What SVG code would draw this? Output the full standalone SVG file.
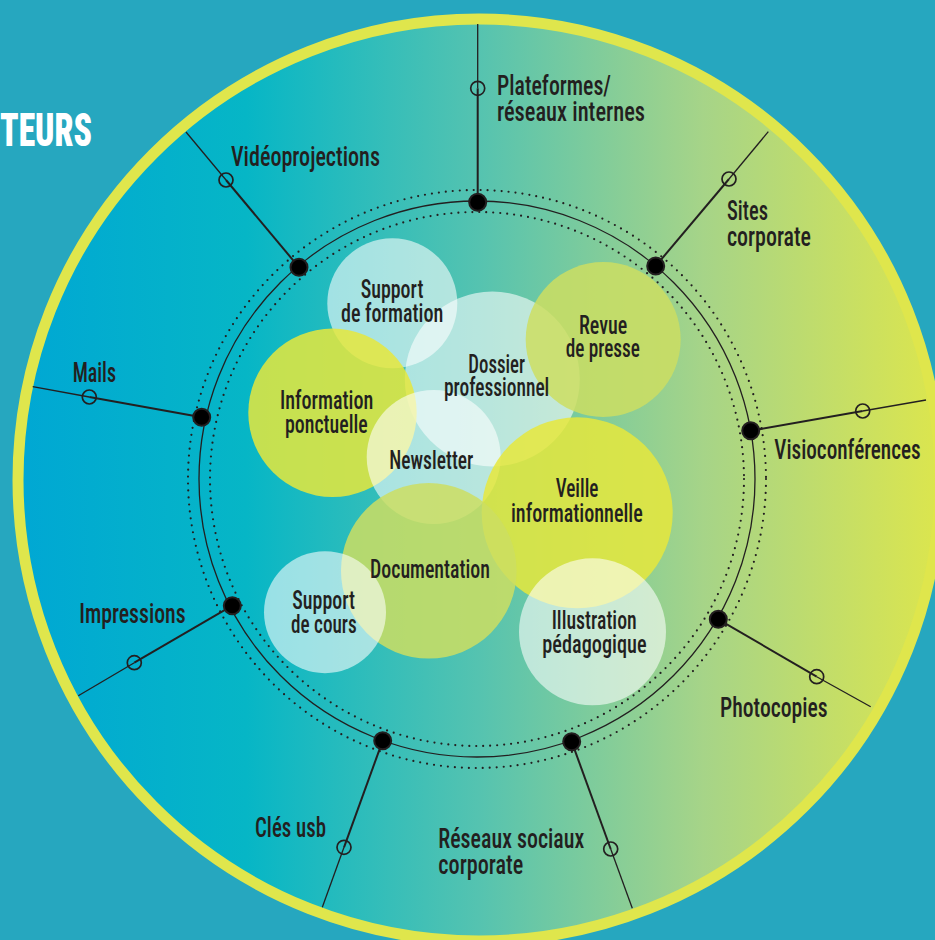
<svg xmlns="http://www.w3.org/2000/svg" width="935" height="940" viewBox="0 0 935 940">
  <defs>
    <linearGradient id="bgGrad" gradientUnits="userSpaceOnUse" x1="13" y1="0" x2="945" y2="0">
      <stop offset="0" stop-color="#00A7D4"/>
      <stop offset="0.25" stop-color="#06B6C6"/>
      <stop offset="0.5" stop-color="#55C3B0"/>
      <stop offset="0.74" stop-color="#A6D488"/>
      <stop offset="1" stop-color="#DDE64C"/>
    </linearGradient>
    <style>
      .lbl { font-family: "Roboto Condensed", "DejaVu Sans Condensed", "Liberation Sans Narrow", "Roboto", "Liberation Sans", sans-serif; font-weight: 500; fill: #231f20; }
      .out { font-size: 27px; }
      .in { font-size: 25px; }
      .title { font-family: "Roboto Condensed", "DejaVu Sans Condensed", "Liberation Sans Narrow", "Roboto", "Liberation Sans", sans-serif; font-weight: 900; font-size: 47px; fill: #ffffff; }
      .ring-solid { fill: none; stroke: #231f20; stroke-width: 1.3; }
      .ring-dot { fill: none; stroke: #231f20; stroke-width: 2.2; stroke-linecap: round; stroke-dasharray: 0 7; }
      .seg-in { stroke: #231f20; stroke-width: 2; }
      .seg-out { stroke: #231f20; stroke-width: 1.3; }
      .junction { fill: #000000; stroke: #231f20; stroke-width: 2; }
      .port { fill: none; stroke: #231f20; stroke-width: 1.7; }
      .white { fill: #ffffff; fill-opacity: 0.58; }
      .yellow { fill: #E6E83C; fill-opacity: 0.85; }
      .yellowgreen { fill: #CCDE62; fill-opacity: 0.85; }
    </style>
  </defs>

  <!-- background -->
  <rect x="0" y="0" width="935" height="940" fill="#26A7BF"/>
  <circle cx="479" cy="480" r="461" fill="url(#bgGrad)" stroke="#DFE64C" stroke-width="11"/>

  <text class="title" x="0" y="145.7" textLength="92" lengthAdjust="spacingAndGlyphs">TEURS</text>

  <!-- concentric rings -->
  <g id="rings">
    <circle class="ring-dot" cx="477" cy="479" r="289"/>
    <circle class="ring-solid" cx="477" cy="479" r="278"/>
    <circle class="ring-dot" cx="477" cy="479" r="267"/>
  </g>

  <!-- connectors -->
  <g id="connectors">
    <line class="seg-out" x1="477.7" y1="24" x2="477.7" y2="88.3"/>
    <line class="seg-in" x1="477.7" y1="88.3" x2="477.7" y2="202.3"/>

    <line class="seg-out" x1="186" y1="132" x2="226" y2="180"/>
    <line class="seg-in" x1="226" y1="180" x2="299" y2="267.3"/>

    <line class="seg-out" x1="768.3" y1="131.7" x2="729" y2="179"/>
    <line class="seg-in" x1="729" y1="179" x2="655.7" y2="266"/>

    <line class="seg-out" x1="32.7" y1="386.7" x2="89.3" y2="397"/>
    <line class="seg-in" x1="89.3" y1="397" x2="201.7" y2="417.3"/>

    <line class="seg-out" x1="926" y1="400" x2="862.7" y2="411"/>
    <line class="seg-in" x1="862.7" y1="411" x2="750.7" y2="430.7"/>

    <line class="seg-out" x1="78.3" y1="695.7" x2="134.3" y2="662.7"/>
    <line class="seg-in" x1="134.3" y1="662.7" x2="232.3" y2="605.7"/>

    <line class="seg-out" x1="870.7" y1="706.7" x2="816.7" y2="676.7"/>
    <line class="seg-in" x1="816.7" y1="676.7" x2="718.3" y2="619.3"/>

    <line class="seg-out" x1="322.3" y1="907.3" x2="344" y2="847.3"/>
    <line class="seg-in" x1="344" y1="847.3" x2="382.7" y2="740.7"/>

    <line class="seg-out" x1="632.3" y1="908.3" x2="610.7" y2="849"/>
    <line class="seg-in" x1="610.7" y1="849" x2="571.7" y2="741.7"/>
  </g>

  <!-- junction dots on the ring -->
  <g id="junctions">
    <circle class="junction" cx="477.7" cy="202.3" r="8.5"/>
    <circle class="junction" cx="299" cy="267.3" r="8.5"/>
    <circle class="junction" cx="655.7" cy="266" r="8.5"/>
    <circle class="junction" cx="201.7" cy="417.3" r="8.5"/>
    <circle class="junction" cx="750.7" cy="430.7" r="8.5"/>
    <circle class="junction" cx="232.3" cy="605.7" r="8.5"/>
    <circle class="junction" cx="718.3" cy="619.3" r="8.5"/>
    <circle class="junction" cx="382.7" cy="740.7" r="8.5"/>
    <circle class="junction" cx="571.7" cy="741.7" r="8.5"/>
  </g>

  <!-- outer channel nodes -->
  <g id="node-plateformes">
    <circle class="port" cx="477.7" cy="88.3" r="7"/>
    <text class="lbl out" x="497" y="95" textLength="114" lengthAdjust="spacingAndGlyphs">Plateformes/</text>
    <text class="lbl out" x="497" y="121" textLength="148" lengthAdjust="spacingAndGlyphs">réseaux internes</text>
  </g>
  <g id="node-videoprojections">
    <circle class="port" cx="226" cy="180" r="7"/>
    <text class="lbl out" x="231" y="166" textLength="149" lengthAdjust="spacingAndGlyphs">Vidéoprojections</text>
  </g>
  <g id="node-sites">
    <circle class="port" cx="729" cy="179" r="7"/>
    <text class="lbl out" x="727" y="220" textLength="41" lengthAdjust="spacingAndGlyphs">Sites</text>
    <text class="lbl out" x="727" y="246" textLength="84" lengthAdjust="spacingAndGlyphs">corporate</text>
  </g>
  <g id="node-mails">
    <circle class="port" cx="89.3" cy="397" r="7"/>
    <text class="lbl out" x="72.7" y="381.7" textLength="43.3" lengthAdjust="spacingAndGlyphs">Mails</text>
  </g>
  <g id="node-visioconferences">
    <circle class="port" cx="862.7" cy="411" r="7"/>
    <text class="lbl out" x="774.3" y="459.3" textLength="146.4" lengthAdjust="spacingAndGlyphs">Visioconférences</text>
  </g>
  <g id="node-impressions">
    <circle class="port" cx="134.3" cy="662.7" r="7"/>
    <text class="lbl out" x="79.3" y="622.7" textLength="106.4" lengthAdjust="spacingAndGlyphs">Impressions</text>
  </g>
  <g id="node-photocopies">
    <circle class="port" cx="816.7" cy="676.7" r="7"/>
    <text class="lbl out" x="720" y="717.3" textLength="107.7" lengthAdjust="spacingAndGlyphs">Photocopies</text>
  </g>
  <g id="node-cles-usb">
    <circle class="port" cx="344" cy="847.3" r="7"/>
    <text class="lbl out" x="255" y="837.3" textLength="71" lengthAdjust="spacingAndGlyphs">Clés usb</text>
  </g>
  <g id="node-reseaux-sociaux">
    <circle class="port" cx="610.7" cy="849" r="7"/>
    <text class="lbl out" x="438.3" y="848.3" textLength="146" lengthAdjust="spacingAndGlyphs">Réseaux sociaux</text>
    <text class="lbl out" x="438.3" y="874.3" textLength="85" lengthAdjust="spacingAndGlyphs">corporate</text>
  </g>

  <!-- inner bubbles -->
  <g id="bubble-support-formation">
    <circle class="white" cx="392.3" cy="303.3" r="65"/>
  </g>
  <g id="bubble-dossier">
    <circle class="white" cx="492.3" cy="379" r="87.5"/>
  </g>
  <g id="bubble-revue">
    <circle class="yellowgreen" cx="603.2" cy="339.5" r="77.5"/>
  </g>
  <g id="bubble-information">
    <circle class="yellow" cx="332.5" cy="412.8" r="84.2"/>
  </g>
  <g id="bubble-newsletter">
    <circle class="white" cx="433.7" cy="457" r="67"/>
  </g>
  <g id="bubble-veille">
    <circle class="yellow" cx="577.2" cy="512.8" r="95.5"/>
  </g>
  <g id="bubble-documentation">
    <circle class="yellowgreen" cx="428.8" cy="570.8" r="87.8"/>
  </g>
  <g id="bubble-support-cours">
    <circle class="white" cx="325" cy="612.2" r="61"/>
  </g>
  <g id="bubble-illustration">
    <circle class="white" cx="592.5" cy="631.8" r="73.5"/>
  </g>

  <!-- bubble labels -->
  <g id="bubble-labels">
    <text class="lbl in" x="360.7" y="298.3" textLength="62.7" lengthAdjust="spacingAndGlyphs">Support</text>
    <text class="lbl in" x="341" y="321.7" textLength="102.3" lengthAdjust="spacingAndGlyphs">de formation</text>
    <text class="lbl in" x="579" y="334" textLength="48.3" lengthAdjust="spacingAndGlyphs">Revue</text>
    <text class="lbl in" x="565.7" y="357.3" textLength="74.3" lengthAdjust="spacingAndGlyphs">de presse</text>
    <text class="lbl in" x="468.3" y="372.7" textLength="56.7" lengthAdjust="spacingAndGlyphs">Dossier</text>
    <text class="lbl in" x="444" y="396" textLength="105.3" lengthAdjust="spacingAndGlyphs">professionnel</text>
    <text class="lbl in" x="280" y="409.3" textLength="93.3" lengthAdjust="spacingAndGlyphs">Information</text>
    <text class="lbl in" x="285" y="432.7" textLength="82.7" lengthAdjust="spacingAndGlyphs">ponctuelle</text>
    <text class="lbl in" x="389.3" y="469.3" textLength="84" lengthAdjust="spacingAndGlyphs">Newsletter</text>
    <text class="lbl in" x="555.7" y="497.3" textLength="42.7" lengthAdjust="spacingAndGlyphs">Veille</text>
    <text class="lbl in" x="511" y="521.7" textLength="131.7" lengthAdjust="spacingAndGlyphs">informationnelle</text>
    <text class="lbl in" x="370" y="578.3" textLength="120" lengthAdjust="spacingAndGlyphs">Documentation</text>
    <text class="lbl in" x="292.3" y="609" textLength="62.7" lengthAdjust="spacingAndGlyphs">Support</text>
    <text class="lbl in" x="291" y="632.7" textLength="65.7" lengthAdjust="spacingAndGlyphs">de cours</text>
    <text class="lbl in" x="551.7" y="629" textLength="85" lengthAdjust="spacingAndGlyphs">Illustration</text>
    <text class="lbl in" x="542.3" y="652.7" textLength="104.3" lengthAdjust="spacingAndGlyphs">pédagogique</text>
  </g>
</svg>
